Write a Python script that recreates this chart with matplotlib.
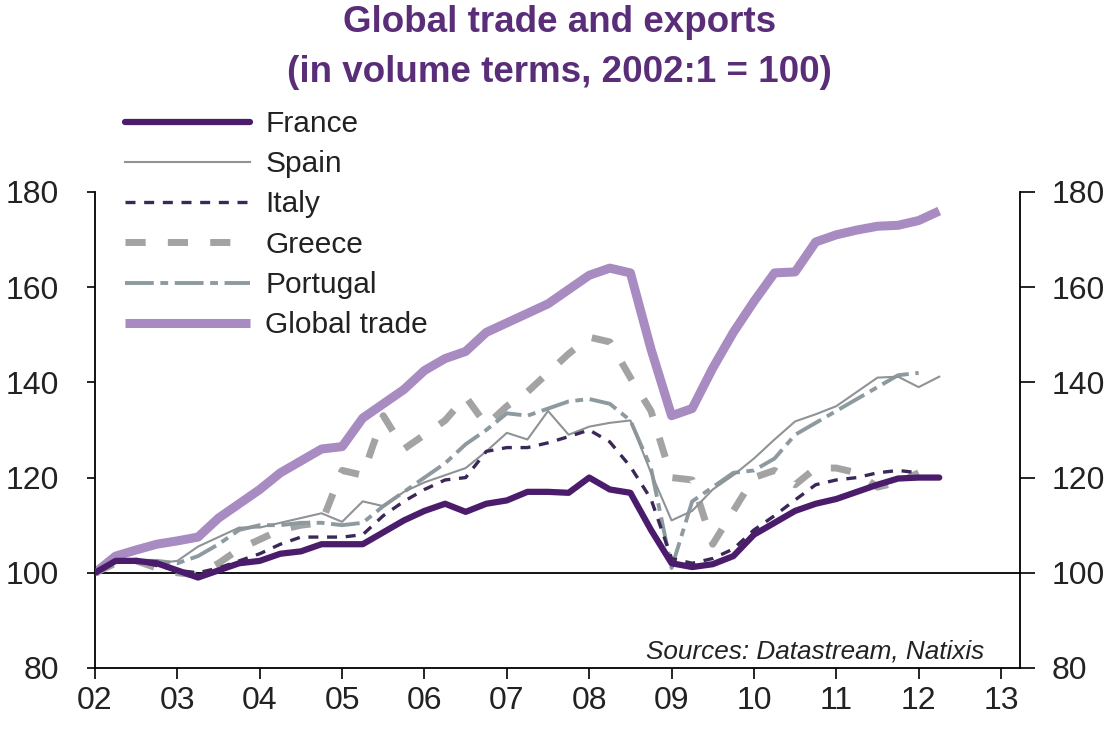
import matplotlib
matplotlib.use("Agg")
import matplotlib.pyplot as plt
import numpy as np

plt.rcParams["font.family"] = ["Liberation Sans", "DejaVu Sans"]

# quarterly observations, 2002Q1 .. 2012Q2 (index 2002:1 = 100)
dates = np.arange(2002.0, 2012.26, 0.25)

france = [100, 102.5, 102.5, 102, 100.5, 99, 100.5, 102, 102.5, 104, 104.5, 106,
          106, 106, 108.5, 111, 113, 114.5, 112.8, 114.5, 115.2, 117, 117, 116.8,
          120, 117.5, 116.8, 109, 102, 101.2, 101.8, 103.5, 108, 110.5, 113, 114.5,
          115.5, 117, 118.5, 119.8, 120, 120]
spain = [100, 102.5, 102.5, 102, 102.5, 105.5, 107.5, 109.5, 109.5, 110.5, 111.5, 112.5,
         110.7, 115, 114, 117, 119, 120.5, 122, 125.5, 129.4, 128, 134, 129,
         130.7, 131.5, 132, 121, 111, 113, 117.5, 120.5, 124, 128, 131.8, 133.3,
         135, 138, 141, 141.2, 139, 141.2]
italy = [100, 102.5, 102.5, 101.5, 100.5, 100, 101, 102.5, 104, 106, 107.5, 107.5,
         107.5, 108, 112, 115, 117.5, 119.5, 120, 125.5, 126.3, 126.3, 127.3, 128.6,
         130, 127.5, 122.3, 115.5, 103, 102, 103, 105, 109, 112, 115.3, 118.5,
         119.5, 120, 121, 121.5, 121]
greece = [100, 102, 102.5, 101, 100, 99.5, 102, 105, 107, 109, 110, 110.5,
          121.5, 120.5, 133, 126, 129, 132, 137, 131, 135, 138, 142, 146,
          149.5, 148.5, 141, 134, 120, 119.5, 106, 113, 120, 121.5, 118.5, 122,
          122, 121, 118, 119, 121]
portugal = [100, 102.5, 102.5, 102.5, 102, 103.5, 106, 109, 110, 110, 110.5, 110.5,
            110, 110.5, 114, 117, 120, 123, 127, 130, 133.5, 133, 134.5, 136,
            136.5, 135.5, 132, 122, 101, 115, 118, 121, 121.5, 124, 129, 131.5,
            134, 136.5, 139, 141.5, 142]
global_trade = [100, 103.5, 104.8, 106, 106.7, 107.5, 111.5, 114.5, 117.5, 121, 123.5, 126,
                126.5, 132.5, 135.5, 138.5, 142.5, 145, 146.5, 150.5, 152.5, 154.5, 156.5, 159.5,
                162.5, 164, 163, 147, 133, 134.5, 143, 150.5, 157, 163, 163.2, 169.5,
                171, 172, 172.8, 173, 174, 176]

year_ticks = list(range(2002, 2014))
year_labels = ["02", "03", "04", "05", "06", "07", "08", "09", "10", "11", "12", "13"]
y_ticks = [80, 100, 120, 140, 160, 180]

TITLE_COL = "#5a2d78"
TEXT_COL = "#222222"

fig = plt.figure(figsize=(11.13, 7.35), dpi=100)
ax = fig.add_axes([0.0854, 0.0912, 0.831, 0.6476])

ax.axhline(100, color="black", lw=1.3, zorder=1)

ax.plot(dates, global_trade, color="#a78bc1", lw=6.5, solid_capstyle="butt",
        label="Global trade", zorder=2)
ax.plot(dates[:len(greece)], greece, color="#a3a3a3", lw=5, dashes=(2.9, 3.2),
        label="Greece", zorder=3)
ax.plot(dates[:len(portugal)], portugal, color="#8d9aa0", lw=2.8, dashes=(7.4, 1.7, 2, 1.7),
        label="Portugal", zorder=4)
ax.plot(dates, spain, color="#8f9396", lw=1.5, label="Spain", zorder=5)
ax.plot(dates[:len(italy)], italy, color="#3b2858", lw=2.4, dashes=(3.0, 2.6),
        label="Italy", zorder=6)
ax.plot(dates, france, color="#4b1c6b", lw=4.5, solid_capstyle="round",
        label="France", zorder=7)

ax.set_xlim(2002, 2013.23)
ax.set_ylim(80, 180)
ax.set_xticks(year_ticks)
ax.set_xticklabels(year_labels)
ax.set_yticks(y_ticks)

for side in ("top", "right"):
    ax.spines[side].set_visible(False)
for side in ("left", "bottom"):
    ax.spines[side].set_linewidth(1.3)
ax.tick_params(axis="x", direction="out", length=8, width=1.2, pad=5,
               labelsize=23, labelcolor=TEXT_COL)
ax.tick_params(axis="y", direction="out", length=6, width=1.2, pad=20,
               labelsize=23, labelcolor=TEXT_COL)

# right-hand scale is a copy of the left one
ax2 = ax.twinx()
ax2.set_ylim(ax.get_ylim())
ax2.set_yticks(y_ticks)
for side in ("top", "left", "bottom"):
    ax2.spines[side].set_visible(False)
ax2.spines["right"].set_linewidth(1.3)
ax2.tick_params(axis="y", direction="out", length=11, width=1.2, pad=12,
                labelsize=23, labelcolor=TEXT_COL)

ax.text(2012.8, 83.5, "Sources: Datastream, Natixis", ha="right", va="center",
        fontsize=18.8, style="italic", color=TEXT_COL)

fig.text(0.503, 0.970, "Global trade and exports", ha="center", va="center",
         fontsize=26.5, fontweight="bold", color=TITLE_COL)
fig.text(0.503, 0.902, "(in volume terms, 2002:1 = 100)", ha="center", va="center",
         fontsize=26.5, fontweight="bold", color=TITLE_COL)

handles, labels = ax.get_legend_handles_labels()
order = ["France", "Spain", "Italy", "Greece", "Portugal", "Global trade"]
hmap = dict(zip(labels, handles))
fig.legend([hmap[k] for k in order], order, loc="upper left",
           bbox_to_anchor=(125 / 1113, 1 - 110 / 735), frameon=False,
           fontsize=21.5, handlelength=4.2, handletextpad=0.5, labelspacing=0.41,
           borderpad=0, borderaxespad=0, labelcolor=TEXT_COL)

fig.savefig("out.png", dpi=100)
